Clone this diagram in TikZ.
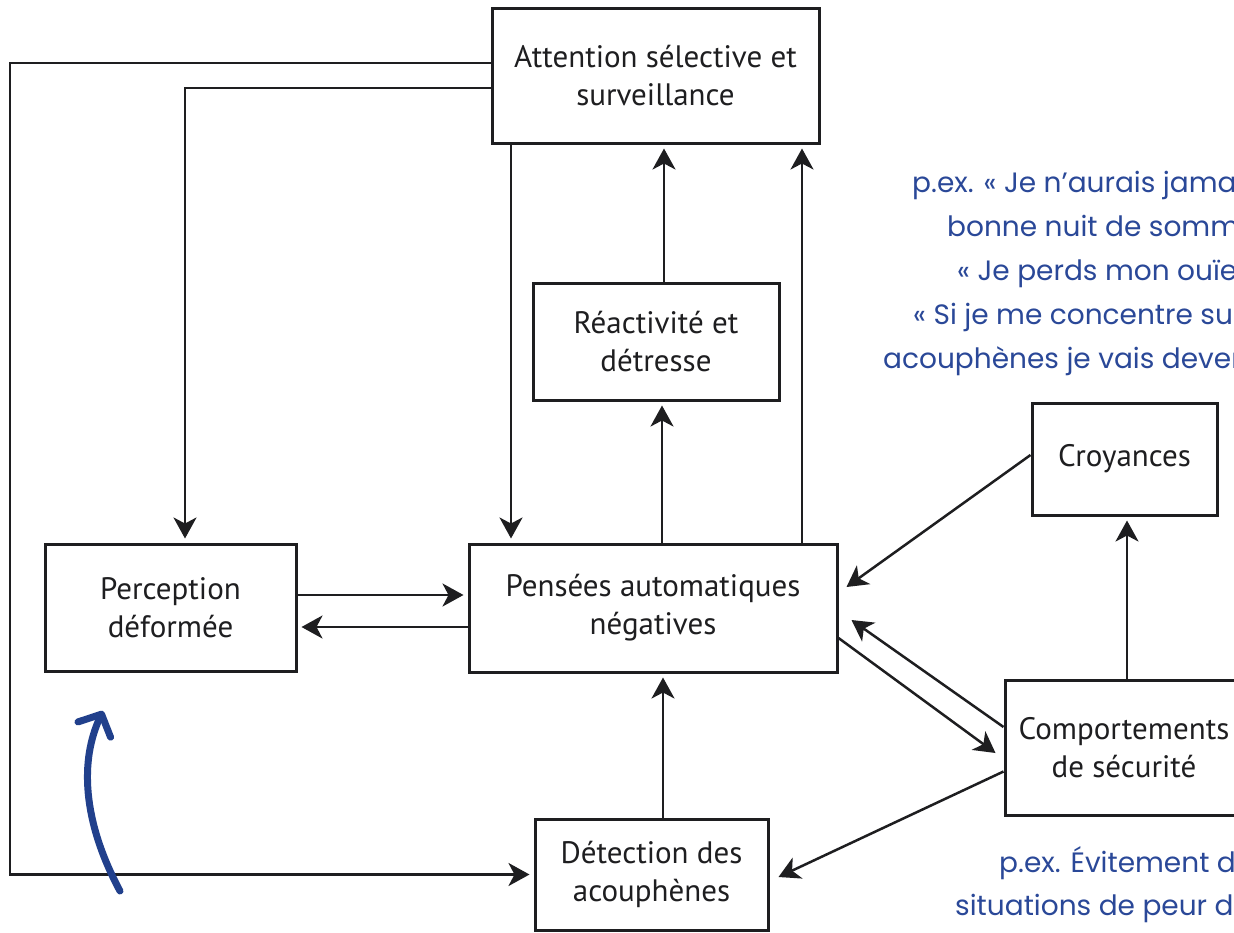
\documentclass[tikz,border=0pt]{standalone}
\usepackage{fontspec}
\setmainfont{PT Sans}
\newfontfamily\handfont{Poppins}
\usetikzlibrary{arrows.meta}
\definecolor{myInk}{RGB}{30,30,32}
\definecolor{myBlue}{RGB}{42,72,152}
\definecolor{myNavy}{RGB}{33,64,140}

\tikzset{
	box/.style={draw=myInk,line width=3pt,inner sep=0pt,align=center,text=myInk,font=\fontsize{31}{38}\selectfont},
	link/.style={draw=myInk,line width=2.5pt,-{Stealth[length=21pt,width=23pt,inset=6pt]},shorten >=4pt},
	note/.style={anchor=base west,inner sep=0pt,text=myBlue,font=\handfont\fontsize{28}{44}\selectfont}
}

\begin{document}
\begin{tikzpicture}[x=1pt,y=-1pt]
		\clip (0,0) rectangle (1234,932);
		\fill[white] (0,0) rectangle (1234,932);
		
		% boites
		\node[box,minimum width=327pt,minimum height=135pt] (att) at (655.5,75.5) {Attention sélective et\\surveillance};
		\node[box,minimum width=246pt,minimum height=117pt] (react) at (656,341.5) {Réactivité et\\détresse};
		\node[box,minimum width=185pt,minimum height=112pt] (croy) at (1124.5,459) {Croyances};
		\node[box,minimum width=251pt,minimum height=127pt] (perc) at (170.5,607.5) {Perception\\déformée};
		\node[box,minimum width=368pt,minimum height=128pt] (pens) at (653,608) {Pensées automatiques\\négatives};
		\node[box,minimum width=238pt,minimum height=135pt] (comp) at (1124,747.5) {Comportements\\de sécurité};
		\node[box,minimum width=233pt,minimum height=111pt] (det) at (651.5,874.5) {Détection des\\acouphènes};
		
		% fleches
		\coordinate (loop) at (10,500);
		\draw[link] ([yshift=12.5pt]att.west) -| (loop) |- (det.west);
		\draw[link] ([yshift=-12.5pt]att.west) -| ([xshift=14.5pt]perc.north);
		\draw[link] ([xshift=-144.5pt]att.south) -- ([xshift=-144.5pt]att.south |- pens.north);
		\draw[link] ([xshift=8pt]react.north) -- ([xshift=8pt]react.north |- att.south);
		\draw[link] ([xshift=149pt]pens.north) -- ([xshift=149pt]pens.north |- att.south);
		\draw[link] ([xshift=9pt]pens.north) -- ([xshift=9pt]pens.north |- react.south);
		\draw[link] ([yshift=12.5pt]perc.east) -- ([yshift=12.5pt]perc.east -| pens.west);
		\draw[link] ([yshift=-19pt]pens.west) -- ([yshift=-19pt]pens.west -| perc.east);
		\draw[link] ([xshift=11.5pt]det.north) -- ([xshift=11.5pt]det.north |- pens.south);
		\draw[link] ([xshift=3pt]comp.north) -- ([xshift=3pt]comp.north |- croy.south);
		\draw[link,shorten >=0pt] ([yshift=4pt]croy.west) -- ([xshift=8pt,yshift=21pt]pens.east);
		\draw[link,shorten >=0pt] ([yshift=20.5pt]comp.west) -- ([xshift=13pt,yshift=-12pt]pens.east);
		\draw[link,shorten >=0pt] ([yshift=-30pt]pens.east) -- ([xshift=-8pt,yshift=-5.5pt]comp.west);
		\draw[link,shorten >=0pt] ([yshift=-24pt]comp.west) -- ([xshift=9pt,yshift=-2.5pt]det.east);
		
		% annotations
		\coordinate (hstart) at (120,891);
		\coordinate (htip) at (103,711);
		\draw[myNavy,line width=7pt,line cap=round,-{Straight Barb[length=17pt,width=36pt,round]}] (hstart) .. controls (82,820) and (80,760) .. (htip);
		\node[note] (n1) at (912,192) {p.ex. « Je n’aurais jamais une};
		\node[note] (n2) at (947,236) {bonne nuit de sommeil »};
		\node[note] (n3) at (957,280) {« Je perds mon ouïe »};
		\node[note] (n4) at (913,324) {« Si je me concentre sur mes};
		\node[note] (n5) at (883,368) {acouphènes je vais devenir fou »};
		\node[note] (n6) at (999,872) {p.ex. Évitement des};
		\node[note] (n7) at (955,915) {situations de peur de};
	\end{tikzpicture}
\end{document}
